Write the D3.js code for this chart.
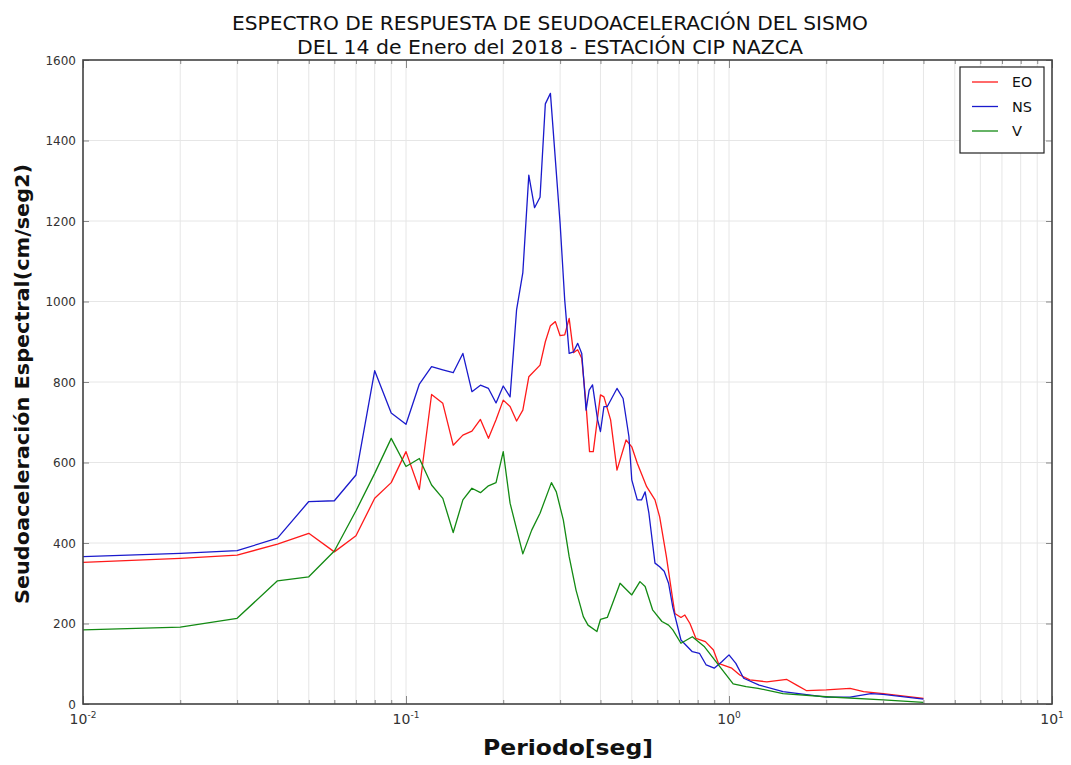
<!DOCTYPE html>
<html>
<head>
<meta charset="utf-8">
<script src="https://cdn.jsdelivr.net/npm/d3@7"></script>
<style>
  html, body { margin: 0; padding: 0; background: #fff; }
  svg { display: block; font-family: "DejaVu Sans", sans-serif; }
</style>
</head>
<body>
<svg id="chart" width="1071" height="765"></svg>
<script>
// ---------- DATA ----------
const titleLines = [
  "ESPECTRO DE RESPUESTA DE SEUDOACELERACIÓN DEL SISMO",
  "DEL 14 de Enero del 2018 - ESTACIÓN CIP NAZCA"
];
const xLabel = "Periodo[seg]";
const yLabel = "Seudoaceleración Espectral(cm/seg2)";
const seriesNames = ["EO", "NS", "V"];
const seriesColors = ["#ff1a1a", "#1a1acc", "#138a13"];

const periodsEO = [0.01,0.02,0.03,0.04,0.05,0.06,0.07,0.08,0.09,0.10,0.11,0.12,0.13,0.14,0.15,0.16,0.17,0.18,0.19,0.20,0.21,0.22,0.23,0.24,0.26,0.27,0.28,0.29,0.30,0.31,0.32,0.33,0.34,0.35,0.36,0.37,0.38,0.40,0.41,0.43,0.45,0.48,0.50,0.52,0.556,0.59,0.61,0.64,0.67,0.68,0.71,0.73,0.757,0.79,0.845,0.895,0.927,0.98,1.02,1.08,1.16,1.31,1.51,1.62,1.74,2.0,2.37,2.61,3.0,4.0];
const valuesEO  = [352,362,370,397,424,378,418,511,550,627,533,769,747,643,668,678,707,660,706,755,739,703,730,813,842,900,940,950,915,917,958,873,880,859,755,627,627,768,763,706,581,656,639,598,540,507,465,366,258,225,215,221,200,163,155,134,101,94,89,72,60,55,61,47,33,35,39,31,26,14];

const periodsNS = [0.01,0.02,0.03,0.04,0.05,0.06,0.07,0.08,0.09,0.10,0.11,0.12,0.13,0.14,0.15,0.16,0.17,0.18,0.19,0.20,0.21,0.22,0.23,0.24,0.25,0.26,0.27,0.28,0.30,0.31,0.32,0.33,0.34,0.35,0.361,0.369,0.378,0.392,0.40,0.41,0.42,0.45,0.47,0.49,0.50,0.52,0.536,0.55,0.565,0.59,0.61,0.63,0.65,0.67,0.71,0.77,0.81,0.85,0.90,0.95,1.0,1.05,1.11,1.24,1.47,2.0,2.37,2.75,3.0,4.0];
const valuesNS  = [366,374,381,412,503,505,569,828,723,695,795,838,830,823,871,776,792,784,748,790,763,980,1072,1314,1233,1259,1491,1517,1194,1004,871,875,896,871,730,780,793,706,677,739,739,784,759,664,557,507,507,527,474,350,341,330,300,240,159,130,126,97,89,105,122,101,64,47,31,17,17,26,24,12];

const periodsV = [0.01,0.02,0.03,0.04,0.05,0.06,0.07,0.08,0.09,0.10,0.11,0.12,0.13,0.14,0.15,0.16,0.17,0.18,0.19,0.20,0.21,0.23,0.245,0.26,0.282,0.292,0.307,0.32,0.336,0.354,0.366,0.39,0.40,0.42,0.46,0.50,0.53,0.55,0.58,0.62,0.65,0.67,0.71,0.77,0.84,0.92,1.03,1.13,1.23,1.47,2.0,3.0,4.0];
const valuesV  = [184,191,213,306,316,380,480,573,660,590,610,544,511,426,507,536,525,542,550,627,499,373,432,474,550,527,457,366,283,217,196,180,210,215,300,271,304,292,234,205,196,184,151,167,142,101,50,43,39,26,18,10,4];

const yTicks = [0,200,400,600,800,1000,1200,1400,1600];
const xDecades = [0.01,0.1,1,10];
const xDecadeExps = ["-2","-1","0","1"];

// ---------- LAYOUT ----------
const svg = d3.select("#chart");
const pLeft = 83, pRight = 1052, pTop = 60, pBottom = 704;
const x = d3.scaleLog().domain([0.01, 10]).range([pLeft, pRight]);
const y = d3.scaleLinear().domain([0, 1600]).range([pBottom, pTop]);

// grid
const minorTicks = [];
[0.01,0.1,1].forEach(d => { for (let k = 1; k <= 9; k++) minorTicks.push(d*k); });
minorTicks.push(10);

const grid = svg.append("g");
grid.selectAll("line.vx").data(minorTicks).enter().append("line")
  .attr("x1", d => x(d)).attr("x2", d => x(d))
  .attr("y1", pTop).attr("y2", pBottom)
  .attr("stroke", "#e6e6e6").attr("stroke-width", 1);
grid.selectAll("line.hy").data(yTicks).enter().append("line")
  .attr("x1", pLeft).attr("x2", pRight)
  .attr("y1", d => y(d)).attr("y2", d => y(d))
  .attr("stroke", "#e6e6e6").attr("stroke-width", 1);

// lines
const series = [
  {name: seriesNames[0], color: seriesColors[0], px: periodsEO, py: valuesEO},
  {name: seriesNames[1], color: seriesColors[1], px: periodsNS, py: valuesNS},
  {name: seriesNames[2], color: seriesColors[2], px: periodsV, py: valuesV}
];
const line = d3.line().x(d => x(d[0])).y(d => y(d[1]));
series.forEach(s => {
  svg.append("path")
    .datum(s.px.map((p, i) => [p, s.py[i]]))
    .attr("d", line)
    .attr("fill", "none")
    .attr("stroke", s.color)
    .attr("stroke-width", 1.3)
    .attr("stroke-linejoin", "round");
});

// axes (ticks inside on all sides)
const axColor = "#444";
function cleanAxis(g) { g.selectAll(".domain").remove(); g.selectAll(".tick line").attr("stroke", "#888"); }
svg.append("g").attr("transform", `translate(0,${pBottom})`)
  .call(d3.axisBottom(x).tickValues(minorTicks).tickSize(-4).tickFormat("")).call(cleanAxis);
svg.append("g").attr("transform", `translate(0,${pTop})`)
  .call(d3.axisTop(x).tickValues(minorTicks).tickSize(-4).tickFormat("")).call(cleanAxis);
svg.append("g").attr("transform", `translate(${pLeft},0)`)
  .call(d3.axisLeft(y).tickValues(yTicks).tickSize(-6).tickFormat("")).call(cleanAxis);
svg.append("g").attr("transform", `translate(${pRight},0)`)
  .call(d3.axisRight(y).tickValues(yTicks).tickSize(-6).tickFormat("")).call(cleanAxis);
svg.append("g").attr("transform", `translate(0,${pBottom})`)
  .call(d3.axisBottom(x).tickValues(xDecades).tickSize(-8).tickFormat("")).call(cleanAxis);
svg.append("g").attr("transform", `translate(0,${pTop})`)
  .call(d3.axisTop(x).tickValues(xDecades).tickSize(-8).tickFormat("")).call(cleanAxis);

// frame
svg.append("rect").attr("x", pLeft).attr("y", pTop)
  .attr("width", pRight - pLeft).attr("height", pBottom - pTop)
  .attr("fill", "none").attr("stroke", axColor).attr("stroke-width", 1.6);

// y tick labels
svg.append("g").selectAll("text").data(yTicks).enter().append("text")
  .attr("x", pLeft - 7).attr("y", d => y(d) + 4.5)
  .attr("text-anchor", "end").attr("font-size", 12).attr("fill", "#333")
  .text(d => d);

// x tick labels 10^n
const xl = svg.append("g").selectAll("text").data(xDecades).enter().append("text")
  .attr("x", d => x(d)).attr("y", 724)
  .attr("text-anchor", "middle").attr("font-size", 14).attr("fill", "#333");
xl.append("tspan").text("10");
xl.append("tspan").attr("dy", -6).attr("font-size", 9).text((d, i) => xDecadeExps[i]);

// titles
svg.append("text").attr("x", 550).attr("y", 30).attr("text-anchor", "middle")
  .attr("font-size", 20).attr("fill", "#111")
  .attr("textLength", 636).attr("lengthAdjust", "spacingAndGlyphs")
  .text(titleLines[0]);
svg.append("text").attr("x", 550).attr("y", 54).attr("text-anchor", "middle")
  .attr("font-size", 20).attr("fill", "#111")
  .attr("textLength", 506).attr("lengthAdjust", "spacingAndGlyphs")
  .text(titleLines[1]);

// axis labels
svg.append("text").attr("x", 568).attr("y", 755).attr("text-anchor", "middle")
  .attr("font-size", 21).attr("font-weight", "bold").attr("fill", "#111")
  .attr("textLength", 170).attr("lengthAdjust", "spacingAndGlyphs")
  .text(xLabel);
svg.append("text")
  .attr("transform", "translate(29,384) rotate(-90)")
  .attr("text-anchor", "middle")
  .attr("font-size", 20).attr("font-weight", "bold").attr("fill", "#111")
  .attr("textLength", 440).attr("lengthAdjust", "spacingAndGlyphs")
  .text(yLabel);

// legend
const lg = svg.append("g");
lg.append("rect").attr("x", 960).attr("y", 67).attr("width", 84).attr("height", 86)
  .attr("fill", "#fff").attr("stroke", "#222").attr("stroke-width", 1.2);
series.forEach((s, i) => {
  const yy = 82 + i * 24.5;
  lg.append("line").attr("x1", 972).attr("x2", 998).attr("y1", yy).attr("y2", yy)
    .attr("stroke", s.color).attr("stroke-width", 1.3);
  lg.append("text").attr("x", 1012).attr("y", yy + 5).attr("font-size", 14).attr("fill", "#111")
    .attr("textLength", s.name.length > 1 ? 20 : 10).attr("lengthAdjust", "spacingAndGlyphs")
    .text(s.name);
});
</script>
</body>
</html>
